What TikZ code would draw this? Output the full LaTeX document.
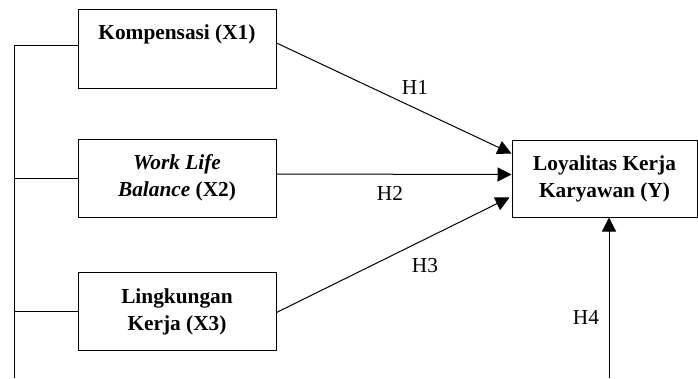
\documentclass[tikz,border=0pt]{standalone}
\usepackage{fontspec}
\setmainfont{Liberation Serif}
\usetikzlibrary{arrows.meta,calc}
\tikzset{
  varbox/.style={draw,line width=0.75pt,minimum width=148.5pt,minimum height=58.5pt,inner sep=0pt,align=center,font=\bfseries\fontsize{16}{20.25}\selectfont},
  hyparrow/.style={line width=0.75pt,-{Triangle[length=10.5pt,width=10.5pt]}},
  hyplabel/.style={inner sep=0pt,font=\fontsize{16}{20}\selectfont},
  linkline/.style={line width=0.75pt}
}

\begin{document}
\begin{tikzpicture}[x=0.75pt,y=-0.75pt]
  % frame
  \useasboundingbox (0,0) rectangle (698,378);

  % independent variables
  \node[varbox,text height=22.5pt,text depth=36pt] (x1) at (177,49) {Kompensasi (X1)};
  \node[varbox] (x2) at (177,178) {\textit{Work Life}\\\textit{Balance} (X2)};
  \node[varbox] (x3) at (177,311.5) {Lingkungan\\Kerja (X3)};

  % dependent variable
  \node[varbox,minimum width=138.75pt,minimum height=57.75pt] (y) at (604.5,178.5) {Loyalitas Kerja\\Karyawan (Y)};

  % left side
  \coordinate (bot) at (14,378);
  \coordinate (c1) at (14,46);
  \draw[linkline] (bot) -- (c1) -- (c1 -| x1.west);
  \draw[linkline] (bot |- x2.west) -- (x2.west);
  \draw[linkline] (bot |- x3.west) -- (x3.west);

  % hypotheses
  \draw[hyparrow] ($(x1.east)+(0,-6)$) -- ($(y.west)+(0,-25)$);
  \draw[hyparrow] ($(x2.east)+(0,-4)$) -- ($(y.west)+(0,-4)$);
  \draw[hyparrow] ($(x3.east)+(0,1)$) -- ($(y.west)+(-2,19)$);
  \coordinate (h4) at (609,378);
  \draw[hyparrow] (h4) -- (h4 |- y.south);

  % labels
  \node[hyplabel] (h1l) at (415,87) {H1};
  \node[hyplabel] (h2l) at (390,193) {H2};
  \node[hyplabel] (h3l) at (425,266) {H3};
  \node[hyplabel] (h4l) at (586,317) {H4};
\end{tikzpicture}
\end{document}
